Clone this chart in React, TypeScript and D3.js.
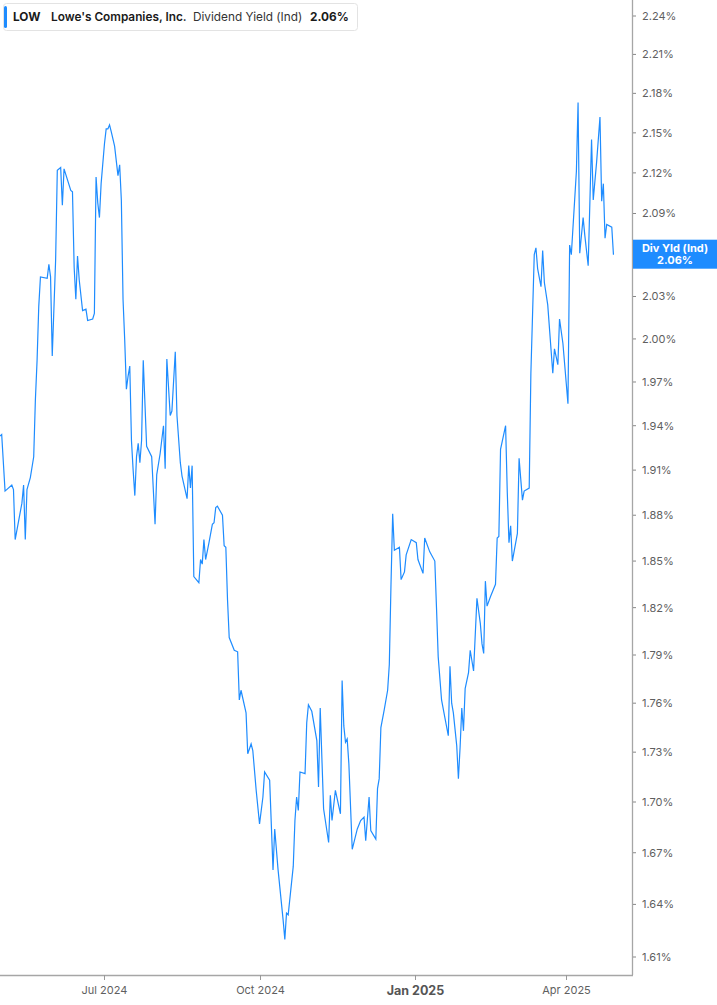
import React from "react";
import * as d3 from "d3";

const dates: string[] = [
  "2024-04-30","2024-05-01","2024-05-03","2024-05-07","2024-05-08","2024-05-09","2024-05-13","2024-05-14","2024-05-15","2024-05-16",
  "2024-05-18","2024-05-20","2024-05-21","2024-05-22","2024-05-23","2024-05-24","2024-05-28","2024-05-29","2024-05-30","2024-05-31",
  "2024-06-02","2024-06-03","2024-06-05","2024-06-06","2024-06-07","2024-06-11","2024-06-12","2024-06-13","2024-06-14","2024-06-15",
  "2024-06-16","2024-06-18","2024-06-20","2024-06-21","2024-06-24","2024-06-25","2024-06-26","2024-06-27","2024-06-28","2024-06-29",
  "2024-07-01","2024-07-02","2024-07-03","2024-07-04","2024-07-05","2024-07-07","2024-07-09","2024-07-10","2024-07-11","2024-07-12",
  "2024-07-13","2024-07-14","2024-07-15","2024-07-16","2024-07-17","2024-07-18","2024-07-19","2024-07-20","2024-07-21","2024-07-22",
  "2024-07-23","2024-07-24","2024-07-26","2024-07-29","2024-07-31","2024-08-01","2024-08-03","2024-08-05","2024-08-06","2024-08-07",
  "2024-08-09","2024-08-10","2024-08-12","2024-08-13","2024-08-15","2024-08-16","2024-08-19","2024-08-20","2024-08-21","2024-08-22",
  "2024-08-23","2024-08-26","2024-08-27","2024-08-28","2024-08-29","2024-08-30","2024-09-01","2024-09-03","2024-09-04","2024-09-05",
  "2024-09-06","2024-09-09","2024-09-10","2024-09-11","2024-09-12","2024-09-13","2024-09-16","2024-09-18","2024-09-19","2024-09-20",
  "2024-09-23","2024-09-24","2024-09-26","2024-09-27","2024-09-29","2024-10-01","2024-10-03","2024-10-04","2024-10-07","2024-10-09",
  "2024-10-10","2024-10-12","2024-10-15","2024-10-16","2024-10-17","2024-10-18","2024-10-21","2024-10-22","2024-10-23","2024-10-24",
  "2024-10-25","2024-10-28","2024-10-29","2024-10-30","2024-11-01","2024-11-04","2024-11-05","2024-11-06","2024-11-08","2024-11-11",
  "2024-11-12","2024-11-13","2024-11-15","2024-11-18","2024-11-19","2024-11-20","2024-11-21","2024-11-22","2024-11-23","2024-11-25",
  "2024-11-28","2024-11-30","2024-12-02","2024-12-03","2024-12-05","2024-12-06","2024-12-09","2024-12-10","2024-12-11","2024-12-12",
  "2024-12-14","2024-12-16","2024-12-17","2024-12-18","2024-12-19","2024-12-20","2024-12-23","2024-12-24","2024-12-26","2024-12-27",
  "2024-12-30","2025-01-02","2025-01-03","2025-01-06","2025-01-07","2025-01-10","2025-01-13","2025-01-14","2025-01-15","2025-01-17",
  "2025-01-19","2025-01-21","2025-01-22","2025-01-23","2025-01-24","2025-01-26","2025-01-27","2025-01-28","2025-01-29","2025-01-30",
  "2025-01-31","2025-02-02","2025-02-03","2025-02-05","2025-02-07","2025-02-09","2025-02-10","2025-02-11","2025-02-12","2025-02-13",
  "2025-02-15","2025-02-18","2025-02-19","2025-02-20","2025-02-21","2025-02-24","2025-02-25","2025-02-26","2025-02-27","2025-02-28",
  "2025-03-03","2025-03-04","2025-03-06","2025-03-07","2025-03-10","2025-03-11","2025-03-13","2025-03-14","2025-03-15","2025-03-17",
  "2025-03-18","2025-03-19","2025-03-21","2025-03-24","2025-03-25","2025-03-27","2025-03-28","2025-03-30","2025-04-01","2025-04-02",
  "2025-04-03","2025-04-04","2025-04-07","2025-04-08","2025-04-09","2025-04-11","2025-04-12","2025-04-14","2025-04-16","2025-04-17",
  "2025-04-19","2025-04-21","2025-04-22","2025-04-23","2025-04-24","2025-04-25","2025-04-28","2025-04-29",
];

const yields: number[] = [
  1.933,1.934,1.896,1.900,1.897,1.864,1.888,1.900,1.864,1.897,
  1.905,1.919,1.958,1.985,2.023,2.044,2.043,2.053,2.044,1.988,
  2.056,2.122,2.124,2.096,2.123,2.107,2.106,2.051,2.028,2.059,
  2.042,2.020,2.021,2.013,2.014,2.018,2.117,2.098,2.087,2.112,
  2.142,2.153,2.153,2.156,2.151,2.140,2.118,2.126,2.100,2.028,
  1.999,1.965,1.974,1.981,1.930,1.910,1.893,1.919,1.928,1.915,
  1.930,1.985,1.926,1.919,1.874,1.907,1.921,1.940,1.911,1.986,
  1.947,1.950,1.991,1.947,1.915,1.906,1.891,1.913,1.898,1.913,
  1.840,1.836,1.851,1.848,1.864,1.851,1.862,1.874,1.875,1.885,
  1.886,1.880,1.860,1.859,1.825,1.801,1.793,1.792,1.762,1.768,
  1.754,1.729,1.735,1.731,1.707,1.687,1.703,1.718,1.713,1.660,
  1.684,1.660,1.631,1.620,1.635,1.634,1.662,1.689,1.703,1.695,
  1.718,1.717,1.748,1.759,1.755,1.737,1.709,1.757,1.696,1.676,
  1.704,1.689,1.707,1.693,1.774,1.746,1.736,1.738,1.723,1.672,
  1.684,1.689,1.691,1.677,1.703,1.683,1.678,1.708,1.714,1.745,
  1.756,1.768,1.784,1.835,1.881,1.857,1.859,1.838,1.843,1.854,
  1.864,1.862,1.851,1.842,1.865,1.856,1.850,1.820,1.789,1.762,
  1.751,1.740,1.783,1.760,1.754,1.734,1.714,1.733,1.757,1.743,
  1.769,1.779,1.793,1.780,1.826,1.810,1.797,1.791,1.837,1.821,
  1.827,1.835,1.865,1.866,1.924,1.940,1.895,1.862,1.873,1.850,
  1.868,1.918,1.890,1.896,1.898,1.976,2.060,2.065,2.050,2.037,
  2.063,2.040,2.024,1.976,1.993,1.982,2.014,1.997,1.969,1.955,
  2.067,2.060,2.121,2.173,2.061,2.087,2.074,2.052,2.145,2.100,
  2.128,2.162,2.099,2.112,2.072,2.082,2.080,2.060,
];

const yTickValues: number[] = [2.24,2.21,2.18,2.15,2.12,2.09,2.06,2.03,2.0,1.97,1.94,1.91,1.88,1.85,1.82,1.79,1.76,1.73,1.7,1.67,1.64,1.61];
const xTickDates: string[] = ["2024-07-01","2024-10-01","2025-01-01","2025-04-01"];
const xTickLabels: string[] = ["Jul 2024","Oct 2024","Jan 2025","Apr 2025"];
const lastValue = 2.06;

const W = 717, H = 1005;
const plotRight = 632, plotBottom = 975;
const LINE = "#1E8CFF";
const FONT = "Inter, 'Noto Sans', Arial, sans-serif";

export default function App() {
  const parse = d3.timeParse("%Y-%m-%d");
  const x = d3.scaleTime().domain([parse("2024-04-30")!, parse("2025-05-10")!]).range([0, plotRight]);
  const y = d3.scaleLog().domain([1.61, 2.24]).range([957, 16]);
  const data = dates.map((d, i) => ({ date: parse(d)!, v: yields[i] }));
  const line = d3.line<{ date: Date; v: number }>().x(d => x(d.date)).y(d => y(d.v));
  const fmt = (v: number) => v.toFixed(2) + "%";
  const ly = y(lastValue);

  return (
    <svg width={W} height={H} style={{ position: "absolute", left: 0, top: 0, background: "#fff" }} fontFamily={FONT}>
      <defs>
        <clipPath id="plot"><rect x={0} y={0} width={plotRight} height={plotBottom} /></clipPath>
      </defs>
      <path d={line(data) || ""} fill="none" stroke={LINE} strokeWidth={1.2} clipPath="url(#plot)" />
      {/* axes */}
      <line x1={plotRight + 0.5} y1={0} x2={plotRight + 0.5} y2={plotBottom} stroke="#a6a6a6" strokeWidth={1.3} />
      <line x1={0} y1={plotBottom + 0.5} x2={plotRight + 1} y2={plotBottom + 0.5} stroke="#a6a6a6" strokeWidth={1.3} />
      {yTickValues.map(t => (
        <g key={t}>
          <line x1={plotRight + 1} x2={plotRight + 4} y1={y(t)} y2={y(t)} stroke="#888" strokeWidth={1} />
          {Math.abs(y(t) - ly) > 16 && (
            <text x={642} y={y(t)} dy="0.35em" fontSize={11} fill="#5f5f5f">{fmt(t)}</text>
          )}
        </g>
      ))}
      {xTickDates.map((d, i) => {
        const xx = Math.round(x(parse(d)!)) + 0.5;
        const bold = xTickLabels[i].startsWith("Jan");
        return (
          <g key={d}>
            <line x1={xx} x2={xx} y1={plotBottom} y2={plotBottom + 5} stroke="#999" strokeWidth={1} />
            <text x={xx} y={bold ? 995 : 994} textAnchor="middle" fontSize={bold ? 12.5 : 11} fontWeight={bold ? 700 : 400} fill={bold ? "#555" : "#5f5f5f"}>{xTickLabels[i]}</text>
          </g>
        );
      })}
      {/* last value label */}
      <rect x={plotRight + 1} y={ly - 15} width={W - plotRight - 1} height={29} fill={LINE} />
      <text x={675} y={ly - 3} textAnchor="middle" fontSize={11} fontWeight={700} fill="#fff">Div Yld (Ind)</text>
      <text x={675} y={ly + 9} textAnchor="middle" fontSize={11} fontWeight={700} fill="#fff">{fmt(lastValue)}</text>
      {/* legend */}
      <rect x={3.5} y={3.5} width={354} height={27} rx={3} fill="#fff" stroke="#e3e3e3" />
      <rect x={4} y={6} width={3} height={22} rx={1.5} fill={LINE} />
      <text y={21} fontSize={11.8} fill="#1a1a1a">
        <tspan x={13} fontWeight={700}>LOW</tspan>
        <tspan x={51} fontWeight={600}>Lowe's Companies, Inc.</tspan>
        <tspan x={193} fontWeight={400} fill="#333">Dividend Yield (Ind)</tspan>
        <tspan x={310} fontWeight={700}>{fmt(lastValue)}</tspan>
      </text>
    </svg>
  );
}
